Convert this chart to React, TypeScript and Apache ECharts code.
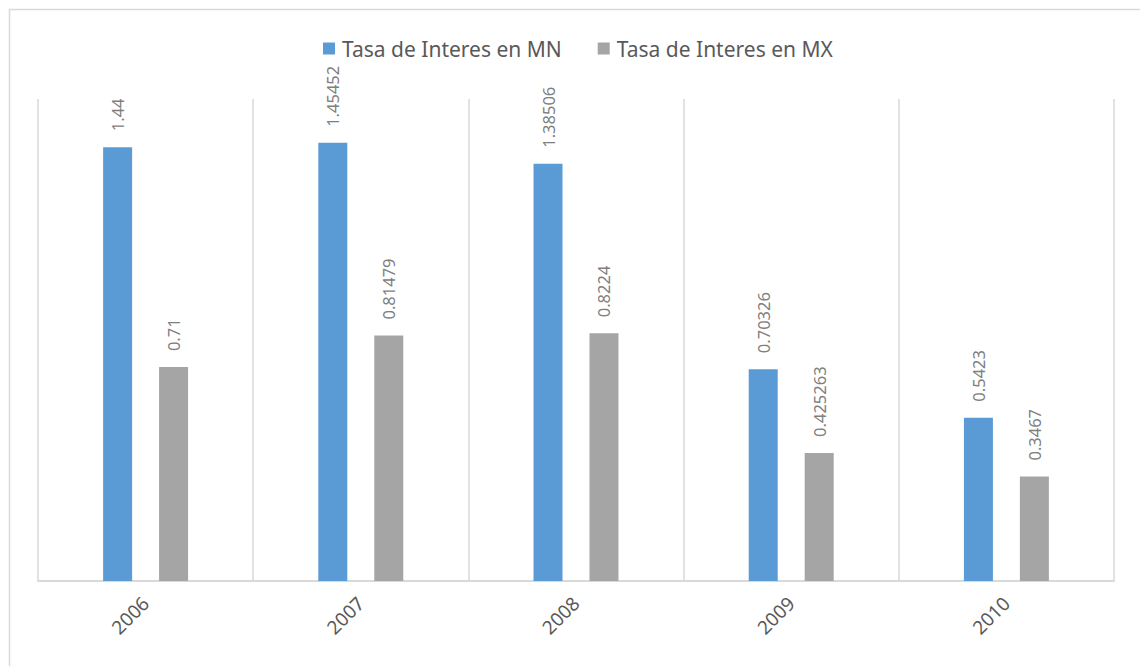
import React, { useEffect, useRef } from "react";
import * as echarts from "echarts";

const years = ["2006", "2007", "2008", "2009", "2010"];
const tasaMN = [1.44, 1.45452, 1.38506, 0.70326, 0.5423];
const tasaMX = [0.71, 0.81479, 0.8224, 0.425263, 0.3467];
const seriesNames = ["Tasa de Interes en MN", "Tasa de Interes en MX"];

const FONT = "'Noto Sans', 'Open Sans', sans-serif";

export default function App() {
  const ref = useRef<HTMLDivElement>(null);
  useEffect(() => {
    if (!ref.current) return;
    const chart = echarts.init(ref.current, null, { renderer: "svg" });
    const label = {
      show: true,
      position: "top",
      rotate: 90,
      align: "left",
      verticalAlign: "middle",
      distance: 16,
      color: "#7f7f7f",
      fontSize: 16.5,
      fontFamily: FONT,
    };
    chart.setOption({
      animation: false,
      backgroundColor: "#ffffff",
      graphic: [
        {
          type: "rect",
          shape: { x: 9.5, y: 9.5, width: 1300, height: 900 },
          style: { fill: "none", stroke: "#d9d9d9", lineWidth: 1.5 },
          silent: true,
        },
      ],
      legend: {
        data: seriesNames,
        top: 33,
        left: 318,
        icon: "rect",
        itemWidth: 12,
        itemHeight: 12,
        itemGap: 36,
        textStyle: { color: "#595959", fontSize: 21, fontFamily: FONT, padding: [0, 0, 0, 2] },
      },
      grid: { left: 38, right: 26, top: 99, bottom: 85 },
      xAxis: {
        type: "category",
        data: years,
        axisLine: { lineStyle: { color: "#d9d9d9", width: 2 } },
        axisTick: { show: false },
        splitLine: { show: true, lineStyle: { color: "#d9d9d9", width: 1.5 } },
        axisLabel: {
          rotate: 45,
          color: "#595959",
          fontSize: 19,
          fontFamily: FONT,
          margin: 19,
        },
      },
      yAxis: {
        type: "value",
        min: 0,
        max: 1.6,
        show: false,
        splitLine: { show: false },
      },
      series: [
        {
          name: seriesNames[0],
          type: "bar",
          data: tasaMN,
          barWidth: 29,
          barGap: "93%",
          itemStyle: { color: "#5b9bd5" },
          label,
        },
        {
          name: seriesNames[1],
          type: "bar",
          data: tasaMX,
          barWidth: 29,
          barGap: "93%",
          itemStyle: { color: "#a5a5a5" },
          label,
        },
      ],
    });
    return () => chart.dispose();
  }, []);
  return (
    <div
      ref={ref}
      style={{ position: "fixed", left: 0, top: 0, width: 1140, height: 666 }}
    />
  );
}
